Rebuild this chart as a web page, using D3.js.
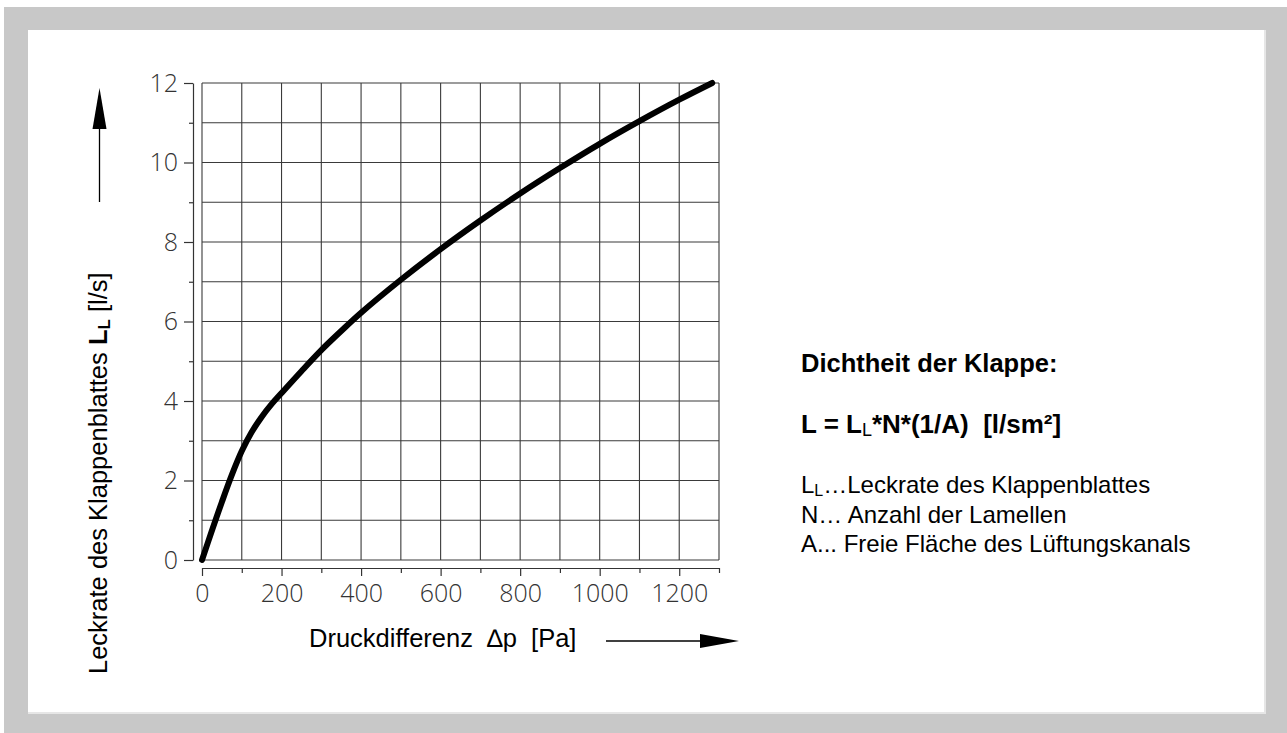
<!DOCTYPE html>
<html>
<head>
<meta charset="utf-8">
<script src="https://cdn.jsdelivr.net/npm/d3@7"></script>
<style>
  body { margin: 0; background: #fff; }
  text { font-family: "Liberation Sans", Arial, sans-serif; }
  .tick text { font-family: "Open Sans", "DejaVu Sans", sans-serif; font-weight: 300; }
</style>
</head>
<body>
<svg width="1287" height="733"></svg>
<script>
// Leckrate über Druckdifferenz
const pressure = [0, 25, 50, 75, 100, 125, 150, 175, 200, 250, 300, 350, 400, 500, 600, 700, 800, 900, 1000, 1100, 1200, 1283];
const leakage = [0, 0.74, 1.46, 2.14, 2.74, 3.22, 3.6, 3.92, 4.2, 4.75, 5.28, 5.76, 6.22, 7.05, 7.82, 8.54, 9.22, 9.86, 10.47, 11.04, 11.58, 12.0];

const xTicks = [0, 100, 200, 300, 400, 500, 600, 700, 800, 900, 1000, 1100, 1200, 1300];
const yTicks = [0, 1, 2, 3, 4, 5, 6, 7, 8, 9, 10, 11, 12];

const legendLines = [
  { main: "L", sub: "L", rest: "\u2026Leckrate des Klappenblattes" },
  { main: "N", sub: "", rest: "\u2026 Anzahl der Lamellen" },
  { main: "A", sub: "", rest: "... Freie Fl\u00e4che des L\u00fcftungskanals" },
];

const svg = d3.select("svg");

// grey frame with white panel
svg.append("rect").attr("x", 4).attr("y", 7).attr("width", 1283).attr("height", 726).attr("fill", "#c8c8c8");
svg.append("rect").attr("x", 28).attr("y", 30).attr("width", 1238).attr("height", 684).attr("fill", "#e6e6e6");
svg.append("rect").attr("x", 28).attr("y", 30).attr("width", 1236).attr("height", 682).attr("fill", "#fff");

const x = d3.scaleLinear().domain([0, 1300]).range([202, 719]);
const y = d3.scaleLinear().domain([0, 12]).range([560, 83]);

// grid
const grid = svg.append("g").attr("stroke", "#3a3a3a").attr("stroke-width", 1.1);
grid.selectAll(".v").data(xTicks).enter().append("line")
  .attr("x1", d => x(d)).attr("x2", d => x(d))
  .attr("y1", y(0)).attr("y2", y(12));
grid.selectAll(".h").data(yTicks).enter().append("line")
  .attr("x1", x(0)).attr("x2", x(1300))
  .attr("y1", d => y(d)).attr("y2", d => y(d));

// axes (offset from the grid)
const yAxis = d3.axisLeft(y).tickValues(yTicks).tickSize(9).tickPadding(6).tickSizeOuter(0)
  .tickFormat(d => d % 2 === 0 ? d : "");
const gy = svg.append("g").attr("transform", "translate(193,0)").call(yAxis);

const xAxis = d3.axisBottom(x).tickValues(xTicks).tickSize(8).tickPadding(8).tickSizeOuter(0)
  .tickFormat(d => d % 200 === 0 ? d : "");
const gx = svg.append("g").attr("transform", "translate(0,568)").call(xAxis);

[gy, gx].forEach(g => {
  g.select(".domain").attr("stroke", "#333").attr("stroke-width", 1.2);
  g.selectAll(".tick line").attr("stroke", "#333").attr("stroke-width", 1.2);
  g.selectAll(".tick text").attr("font-size", 25).attr("fill", "#333");
});
gy.selectAll(".tick line").attr("x2", d => d % 2 === 0 ? -9 : -4);
gx.selectAll(".tick line").attr("y2", d => d % 200 === 0 ? 8 : 5);

// curve
const line = d3.line()
  .x((d, i) => x(pressure[i]))
  .y(d => y(d))
  .curve(d3.curveCatmullRom.alpha(0.5));

svg.append("path")
  .datum(leakage)
  .attr("d", line)
  .attr("fill", "none")
  .attr("stroke", "#000")
  .attr("stroke-width", 6)
  .attr("stroke-linecap", "round")
  .attr("stroke-linejoin", "round");

// x title + arrow
svg.append("text")
  .attr("x", 309).attr("y", 647)
  .attr("font-size", 25.5)
  .style("white-space", "pre")
  .text("Druckdifferenz  \u2206p  [Pa]");
svg.append("line").attr("x1", 606).attr("x2", 702).attr("y1", 641).attr("y2", 641)
  .attr("stroke", "#000").attr("stroke-width", 1.3);
svg.append("path").attr("d", "M700,634L739,641L700,648Z").attr("fill", "#000");

// y title + arrow
const yt = svg.append("text")
  .attr("transform", "translate(107,674) rotate(-90)")
  .attr("font-size", 25.5)
  .style("white-space", "pre");
yt.append("tspan").text("Leckrate des Klappenblattes ");
yt.append("tspan").attr("font-weight", "bold").text("L");
yt.append("tspan").attr("font-weight", "bold").attr("font-size", 17).attr("dy", 3).text("L");
yt.append("tspan").attr("dy", -3).text(" [l/s]");

svg.append("line").attr("x1", 99.5).attr("x2", 99.5).attr("y1", 127).attr("y2", 202)
  .attr("stroke", "#000").attr("stroke-width", 1.3);
svg.append("path").attr("d", "M99.5,88L92.5,129L106.5,129Z").attr("fill", "#000");

// right-hand note
const note = svg.append("g").attr("transform", "translate(801,0)");
note.append("text").attr("y", 372).attr("font-size", 25.5).attr("font-weight", "bold")
  .text("Dichtheit der Klappe:");

const f = note.append("text").attr("y", 433).attr("font-size", 26).attr("font-weight", "bold")
  .style("white-space", "pre");
f.append("tspan").text("L = L");
f.append("tspan").attr("font-size", 18).attr("font-weight", "normal").attr("dy", 3).text("L");
f.append("tspan").attr("dy", -3).text("*N*(1/A)  [l/sm\u00b2]");

note.selectAll(".leg").data(legendLines).enter().append("text")
  .attr("class", "leg")
  .attr("y", (d, i) => 493 + i * 29.5)
  .attr("font-size", 24)
  .style("white-space", "pre")
  .each(function (d) {
    const t = d3.select(this);
    t.append("tspan").text(d.main);
    if (d.sub) {
      t.append("tspan").attr("font-size", 16).attr("dy", 3).text(d.sub);
      t.append("tspan").attr("dy", -3).text(d.rest);
    } else {
      t.append("tspan").text(d.rest);
    }
  });
</script>
</body>
</html>
